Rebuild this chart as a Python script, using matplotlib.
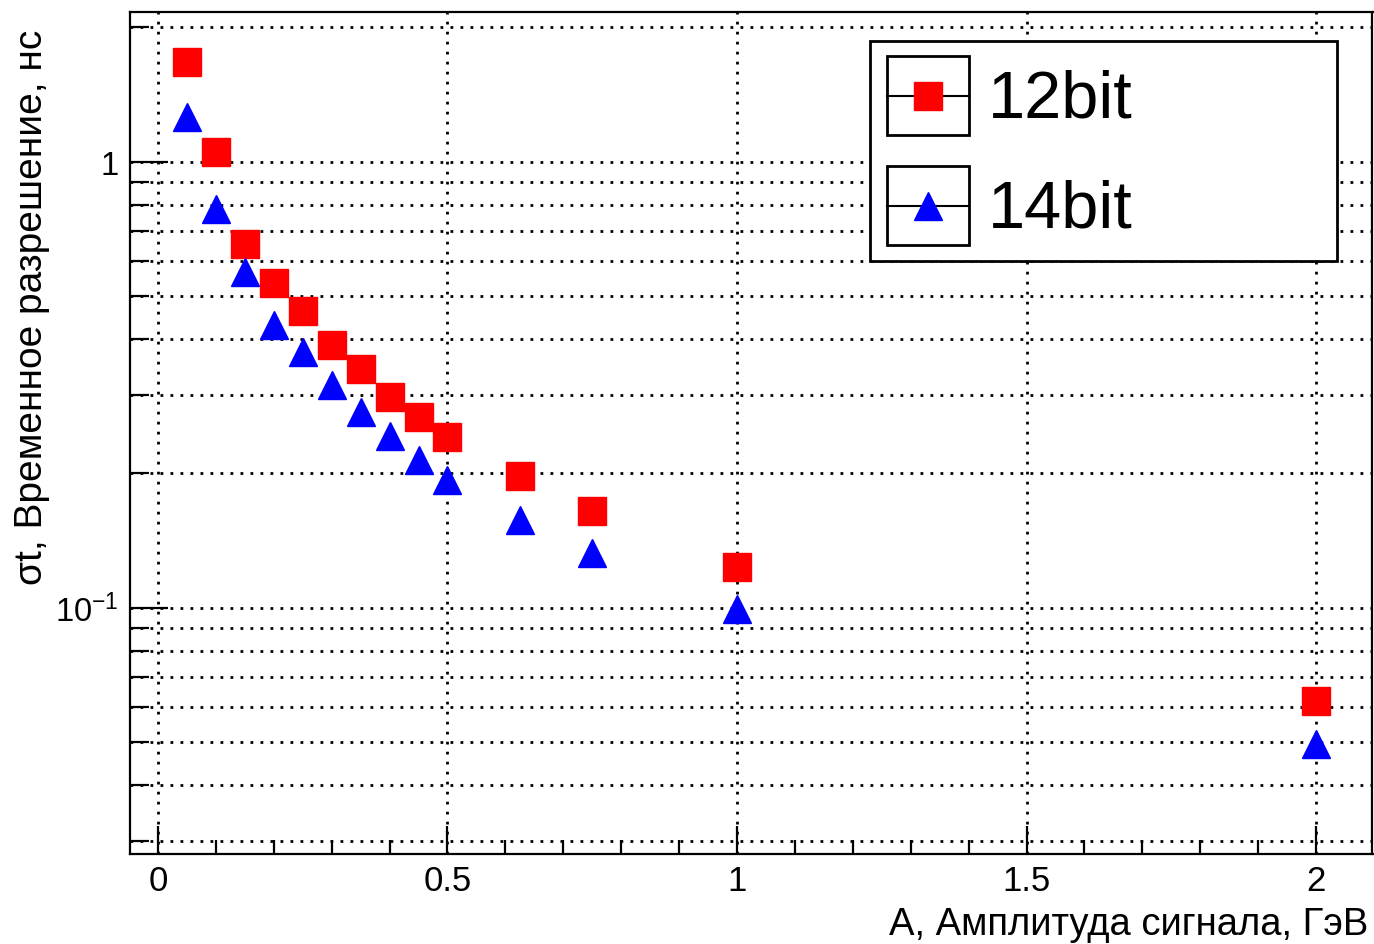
import matplotlib
matplotlib.use('Agg')
import matplotlib.pyplot as plt
from matplotlib.ticker import LogLocator, FixedLocator, FixedFormatter, NullFormatter, MultipleLocator
from matplotlib.lines import Line2D
from matplotlib.patches import Rectangle

plt.rcParams['font.family'] = ['Liberation Sans', 'DejaVu Sans']
plt.rcParams['mathtext.fontset'] = 'custom'
plt.rcParams['mathtext.rm'] = 'Liberation Sans'

# amplitude, GeV
amplitude = [0.05, 0.1, 0.15, 0.2, 0.25, 0.3, 0.35, 0.4, 0.45, 0.5, 0.625, 0.75, 1.0, 2.0]
# time resolution, ns
sigma_12bit = [1.67, 1.053, 0.655, 0.535, 0.463, 0.389, 0.343, 0.297, 0.268, 0.242,
               0.197, 0.165, 0.1236, 0.0618]
sigma_14bit = [1.26, 0.785, 0.567, 0.431, 0.375, 0.315, 0.275, 0.243, 0.214, 0.193,
               0.157, 0.133, 0.0995, 0.0496]
labels = ['12bit', '14bit']

W, H = 1374, 945
fig = plt.figure(figsize=(W / 100, H / 100), dpi=100)
fig.patch.set_facecolor('white')

L, R, T, B = 130, 1372.5, 12.5, 855
ax = fig.add_axes([L / W, 1 - B / H, (R - L) / W, (B - T) / H])

ms = 19.5
ax.plot(amplitude, sigma_12bit, linestyle='none', marker='s', ms=ms, color='#ff0000', mec='#ff0000', zorder=3)
ax.plot(amplitude, sigma_14bit, linestyle='none', marker='^', ms=ms, color='#0000ff', mec='#0000ff', zorder=3)

ax.set_yscale('log')
ax.set_xlim(-0.0483, 2.0975)
ax.set_ylim(0.02807, 2.17)

ax.xaxis.set_major_locator(FixedLocator([0, 0.5, 1, 1.5, 2]))
ax.xaxis.set_major_formatter(FixedFormatter(['0', '0.5', '1', '1.5', '2']))
ax.xaxis.set_minor_locator(MultipleLocator(0.1))

ax.yaxis.set_major_locator(FixedLocator([0.1, 1]))
ax.yaxis.set_major_formatter(FixedFormatter([r'$\mathregular{10^{-1}}$', '1']))
ax.yaxis.set_minor_locator(LogLocator(base=10, subs=[2, 3, 4, 5, 6, 7, 8, 9]))
ax.yaxis.set_minor_formatter(NullFormatter())

ax.tick_params(which='both', direction='in', width=1.6, color='black', labelsize=25,
               top=False, right=False)
ax.tick_params(axis='y', labelsize=23.5)
ax.tick_params(axis='x', which='major', length=20, pad=7)
ax.tick_params(axis='x', which='minor', length=10)
ax.tick_params(axis='y', which='major', length=27, pad=8)
ax.tick_params(axis='y', which='minor', length=14)

dots = (0, (1, 2.6))
ax.grid(axis='x', which='major', color='black', linestyle=dots, linewidth=2)
ax.grid(axis='y', which='both', color='black', linestyle=dots, linewidth=2)
ax.set_axisbelow(True)

for sp in ax.spines.values():
    sp.set_linewidth(1.6)
    sp.set_color('black')

fig.text(1368 / W, 1 - 925 / H, 'A, Амплитуда сигнала, ГэВ', ha='right', va='center', fontsize=27.5)
fig.text(32 / W, 1 - 30 / H, 'σt, Временное разрешение, нс', ha='center', va='top',
         rotation=90, fontsize=28)

# legend, drawn in the ROOT style with framed entry boxes
def fx(px):
    return px / W

def fy(py):
    return 1 - py / H

fig.add_artist(Rectangle((fx(870), fy(262)), fx(1337) - fx(870), fy(42) - fy(262),
                         transform=fig.transFigure, facecolor='white', edgecolor='black',
                         linewidth=2, zorder=5))
entries = [(labels[0], 's', '#ff0000', 57, 136), (labels[1], '^', '#0000ff', 167, 246)]
for text, mk, col, top, bot in entries:
    fig.add_artist(Rectangle((fx(887), fy(bot)), fx(969) - fx(887), fy(top) - fy(bot),
                             transform=fig.transFigure, facecolor='white', edgecolor='black',
                             linewidth=2, zorder=6))
    mid = (top + bot) / 2
    fig.add_artist(Line2D([fx(887), fx(969)], [fy(mid), fy(mid)], transform=fig.transFigure,
                          color='black', linewidth=1.5, zorder=7))
    fig.add_artist(Line2D([fx(928)], [fy(mid)], transform=fig.transFigure, linestyle='none',
                          marker=mk, ms=ms, color=col, mec=col, zorder=8))
    fig.text(fx(988), fy(mid + 4), text, ha='left', va='center', fontsize=48, zorder=9)

fig.savefig('out.png', dpi=100, facecolor='white')
